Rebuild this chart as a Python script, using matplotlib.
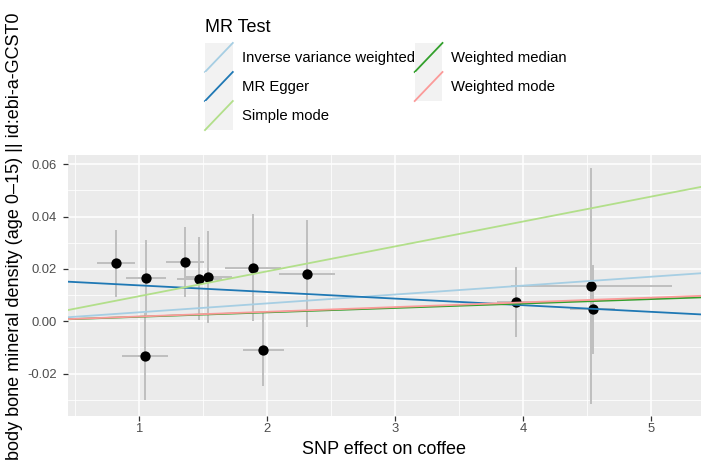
import matplotlib
matplotlib.use("Agg")
import matplotlib.pyplot as plt
from matplotlib.legend_handler import HandlerBase
from matplotlib.lines import Line2D
from matplotlib.patches import Rectangle
from matplotlib.ticker import MultipleLocator, FormatStrFormatter

plt.rcParams['font.family'] = ['Liberation Sans', 'DejaVu Sans']

# SNP effects (exposure = coffee, outcome = bone mineral density)
snp_x = [0.822, 1.056, 1.053, 1.361, 1.473, 1.545, 1.892, 1.975, 2.314, 3.944, 4.535, 4.545]
snp_y = [0.0222, 0.0167, -0.0134, 0.0226, 0.0163, 0.0169, 0.0205, -0.0108, 0.0182, 0.0073, 0.0135, 0.0045]
snp_x_err = [0.150, 0.156, 0.180, 0.149, 0.175, 0.183, 0.218, 0.160, 0.218, 0.150, 0.630, 0.175]
snp_y_err = [0.0128, 0.0145, 0.0165, 0.0135, 0.0160, 0.0177, 0.0205, 0.0140, 0.0204, 0.0134, 0.0452, 0.0170]

# MR estimates
methods = ["Inverse variance weighted", "MR Egger", "Simple mode", "Weighted median", "Weighted mode"]
slopes = [0.0034, -0.00253, 0.00952, 0.00169, 0.0018]
intercepts = [0.0, 0.01624, 0.0, 0.0, 0.0]
colors = ["#A6CEE3", "#1F78B4", "#B2DF8A", "#33A02C", "#FB9A99"]


class KeyHandler(HandlerBase):
    # ggplot style legend key: grey box with a diagonal line
    def create_artists(self, legend, orig_handle, xdescent, ydescent, width, height, fontsize, trans):
        bg = Rectangle((-xdescent, -ydescent), width, height, facecolor="#F2F2F2",
                       edgecolor="none", transform=trans)
        ln = Line2D([-xdescent, -xdescent + width], [-ydescent, -ydescent + height],
                    color=orig_handle.get_color(), lw=1.3, transform=trans)
        return [bg, ln]


fig = plt.figure(figsize=(7.01, 4.62), dpi=100)
ax = fig.add_axes([68 / 701, 1 - 416 / 462, 1 - 68 / 701, (416 - 155) / 462])
ax.set_facecolor("#EBEBEB")
for s in ax.spines.values():
    s.set_visible(False)

ax.errorbar(snp_x, snp_y, yerr=snp_y_err, fmt="none", ecolor="#BEBEBE", elinewidth=1.4, capsize=0, zorder=2)
ax.errorbar(snp_x, snp_y, xerr=snp_x_err, fmt="none", ecolor="#BEBEBE", elinewidth=1.4, capsize=0, zorder=2)
ax.scatter(snp_x, snp_y, s=55, color="black", zorder=3, linewidths=0)

xlim = (0.449, 5.39)
handles = []
for m, b, a, c in zip(methods, slopes, intercepts, colors):
    h, = ax.plot(list(xlim), [a + b * xlim[0], a + b * xlim[1]], color=c, lw=1.3, zorder=4, label=m)
    handles.append(h)

ax.set_xlim(*xlim)
ax.set_ylim(-0.0362, 0.0635)
ax.xaxis.set_major_locator(MultipleLocator(1))
ax.xaxis.set_minor_locator(MultipleLocator(0.5))
ax.yaxis.set_major_locator(MultipleLocator(0.02))
ax.yaxis.set_minor_locator(MultipleLocator(0.01))
ax.yaxis.set_major_formatter(FormatStrFormatter("%.2f"))
ax.grid(which="major", color="white", lw=1.1)
ax.grid(which="minor", color="white", lw=0.55)
ax.set_axisbelow(True)
ax.tick_params(which="major", length=3.5, width=0.9, color="#333333", labelcolor="#4D4D4D",
               labelsize=9.4)
ax.tick_params(axis="y", pad=4.3)
ax.tick_params(axis="x", pad=1.5)
ax.tick_params(which="minor", length=0)
ax.set_xlabel("SNP effect on coffee", fontsize=13, labelpad=4)

fig.text(19 / 701, 2 / 462, "body bone mineral density (age 0\u201315) || id:ebi-a-GCST0",
         rotation=90, rotation_mode="anchor", ha="left", va="baseline", fontsize=13)

leg = fig.legend(handles=handles, labels=methods, ncol=2,
                 handler_map={Line2D: KeyHandler()},
                 loc="upper left", bbox_to_anchor=(205 / 701, 1 - 19 / 462),
                 frameon=False, fontsize=10.7, title="MR Test", title_fontsize=13,
                 alignment="left", borderpad=0, borderaxespad=0,
                 handlelength=1.87, handleheight=2.63, handletextpad=0.6,
                 labelspacing=0, columnspacing=0)
leg._legend_box.sep = 5  # gap between title and keys, points

fig.savefig("out.png", dpi=100)
